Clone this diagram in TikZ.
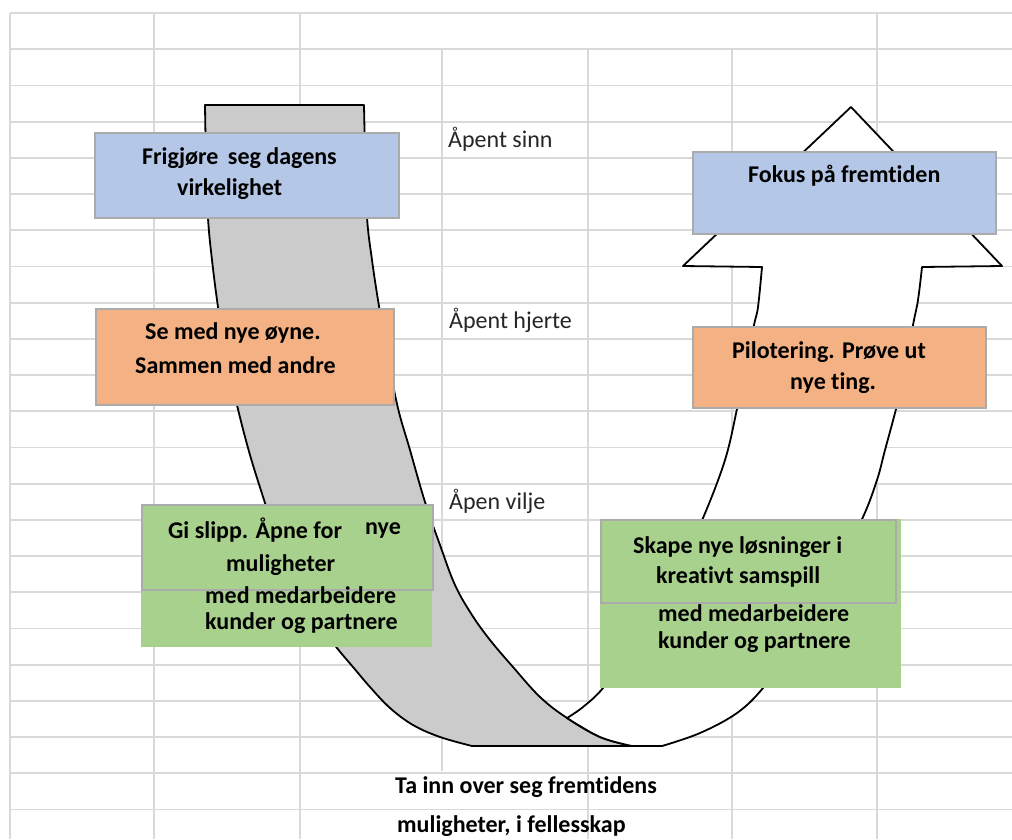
\documentclass[tikz,border=0pt]{standalone}
\usepackage{fontspec}
\setmainfont[Ligatures=NoCommon]{Carlito}
\definecolor{gridc}{HTML}{D9D9D9}
\definecolor{ugrey}{HTML}{CBCBCB}
\definecolor{bluec}{HTML}{B4C7E7}
\definecolor{orangec}{HTML}{F4B183}
\definecolor{greenc}{HTML}{A9D18E}
\definecolor{boxline}{HTML}{ABABAB}
\definecolor{labc}{HTML}{262626}
\begin{document}
\begin{tikzpicture}[x=1pt,y=-1pt,
  gridline/.style={draw=gridc, line width=1.8pt},
  shapeline/.style={draw=black, line width=1.8pt, line join=round},
  box/.style={draw=boxline, line width=1.8pt, anchor=north west, inner sep=0pt},
  plainbox/.style={anchor=north west, inner sep=0pt},
  txt/.style={anchor=west, inner sep=0pt, font=\bfseries\fontsize{24}{28}\selectfont, text=black},
  lab/.style={anchor=west, inner sep=0pt, font=\fontsize{24}{28}\selectfont, text=labc}]
\useasboundingbox (0,0) rectangle (1012,839);
\fill[white] (0,0) rectangle (1012,839);
% grid
\foreach \k in {0,...,22} \draw[gridline] (10,{13+36.2*\k}) -- (1012,{13+36.2*\k});
\foreach \x in {10,154,300,877} \draw[gridline] (\x,13) -- (\x,839);
\draw[gridline] (442,50) -- (442,771);
\foreach \x in {588,732} \draw[gridline] (\x,50) -- (\x,839);
% grey descending band
\draw[shapeline, fill=ugrey] (205,105) -- (364,105)
  -- plot[smooth, tension=0.6] coordinates {(364,105) (365,150) (367,217) (372,260) (378,300) (385,340) (397,404) (410,450) (425,502) (440,545) (455,585) (472,615) (490,640) (513,667) (540,697) (567,718) (600,737) (632,746)}
  -- (472,746)
  -- plot[smooth, tension=0.6] coordinates {(472,746) (440,737) (413,725) (390,708) (370,687) (353,667) (337,648) (320,625) (300,590) (280,550) (265,503) (250,455) (237,405) (225,350) (218,307) (212,260) (208,218) (206,160) (205,105)}
  -- cycle;
% white ascending arrow
\draw[shapeline, fill=white] (632,746) -- (662,746)
  -- plot[smooth, tension=0.6] coordinates {(662,746) (700,733) (737,713) (763,688) (790,650) (815,610) (840,560) (863,517) (877,480) (885,450) (896,409) (905,370) (913,325) (918,300) (922,267)}
  -- (1002,266) -- (851,107) -- (683,266) -- (762,267)
  -- plot[smooth, tension=0.6] coordinates {(762,267) (758,307) (754,325) (745,370) (737,409) (725,460) (703,518) (680,565) (655,610) (630,650) (603,688) (583,707) (567,718)}
  -- plot[smooth, tension=0.6] coordinates {(567,718) (600,737) (632,746)}
  -- cycle;
% boxes
\node[box, fill=bluec, minimum width=304pt, minimum height=85pt] (b1) at (94,132) {};
\node[box, fill=orangec, minimum width=298pt, minimum height=96pt] (o1) at (95,308) {};
\node[plainbox, fill=greenc, minimum width=291pt, minimum height=143pt] (g1f) at (141,504) {};
\node[box, fill=greenc, minimum width=291pt, minimum height=85pt] (g1) at (141,504) {};
\node[plainbox, fill=greenc, minimum width=301pt, minimum height=169pt] (g2f) at (600,519) {};
\node[box, fill=greenc, minimum width=295pt, minimum height=83pt] (g2) at (600,519) {};
\node[box, fill=bluec, minimum width=303pt, minimum height=82pt] (b2) at (692,151) {};
\node[box, fill=orangec, minimum width=293pt, minimum height=81pt] (o2) at (692,326) {};
% texts
\node[txt] (t1a) at (142,158) {Frigjøre\, seg dagens};
\node[txt] (t1b) at (177,189) {virkelighet};
\node[txt] (t2a) at (145,333) {Se med nye øyne.};
\node[txt] (t2b) at (135,365) {Sammen med andre};
\node[txt] (t3a) at (168,530) {Gi slipp. Åpne for};
\node[txt] (t3n) at (365,530) {nye};
\node[txt] (t3b) at (226,565) {muligheter};
\node[txt] (t3c) at (205,595) {med medarbeidere};
\node[txt] (t3d) at (205,623) {kunder og partnere};
\node[txt] (t4a) at (633,547) {Skape nye løsninger i};
\node[txt] (t4b) at (656,577) {kreativt samspill};
\node[txt] (t4c) at (658,613) {med medarbeidere};
\node[txt] (t4d) at (658,642) {kunder og partnere};
\node[txt] (t5) at (748,176) {Fokus på fremtiden};
\node[txt] (t6a) at (732,352) {Pilotering. Prøve ut};
\node[txt] (t6b) at (790,383) {nye ting.};
\node[lab] (l1) at (448,139) {Åpent sinn};
\node[lab] (l2) at (449,320) {Åpent hjerte};
\node[lab] (l3) at (449,501) {Åpen vilje};
\node[txt] (bt1) at (395,787) {Ta inn over seg fremtidens};
\node[txt] (bt2) at (397,826) {muligheter, i fellesskap};
\end{tikzpicture}
\end{document}
